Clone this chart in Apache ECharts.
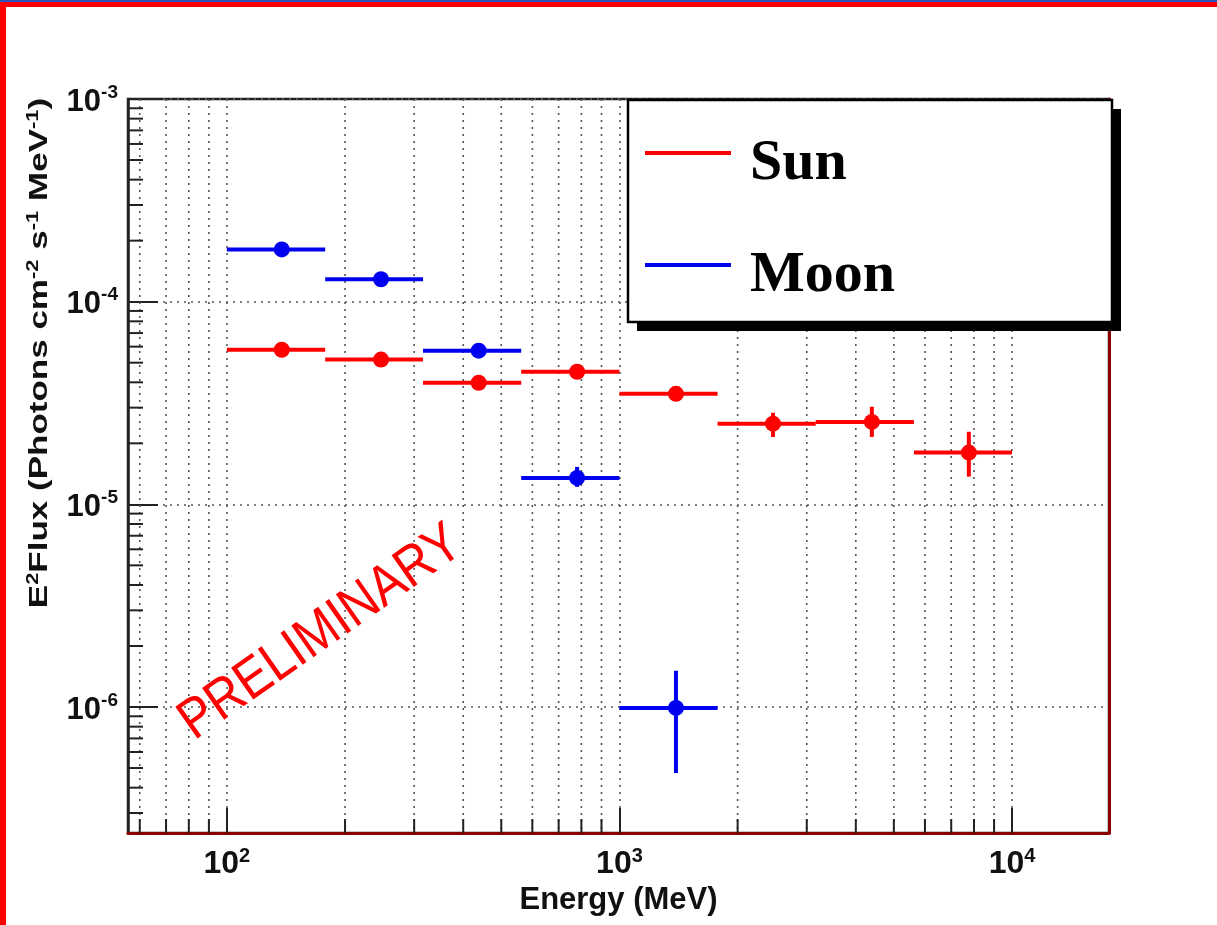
<!DOCTYPE html>
<html>
<head>
<meta charset="utf-8">
<script src="https://cdn.jsdelivr.net/npm/echarts@6/dist/echarts.min.js"></script>
<style>
html,body{margin:0;padding:0;background:#fff;}
#c{width:1217px;height:925px;}
</style>
</head>
<body>
<div id="c"></div>
<script>
// ---- data ----
const xRange = [56, 17660];
const yRange = [2.39e-7, 1e-3];

const sunBinLow  = [100, 178, 316, 562, 1000, 1778, 3162, 5623];
const sunBinHigh = [178, 316, 562, 1000, 1778, 3162, 5623, 10000];
const sunEnergy  = [138, 247, 438, 780, 1393, 2461, 4395, 7762];
const sunFlux     = [5.79e-5, 5.18e-5, 3.98e-5, 4.51e-5, 3.51e-5, 2.50e-5, 2.55e-5, 1.80e-5];
const sunFluxLow  = [5.55e-5, 4.95e-5, 3.78e-5, 4.30e-5, 3.26e-5, 2.15e-5, 2.15e-5, 1.37e-5];
const sunFluxHigh = [6.05e-5, 5.42e-5, 4.20e-5, 4.75e-5, 3.78e-5, 2.83e-5, 3.03e-5, 2.28e-5];

const moonBinLow  = [100, 178, 316, 562, 1000];
const moonBinHigh = [178, 316, 562, 1000, 1778];
const moonEnergy  = [138, 247, 438, 780, 1393];
const moonFlux     = [1.81e-4, 1.29e-4, 5.73e-5, 1.35e-5, 9.9e-7];
const moonFluxLow  = [1.74e-4, 1.24e-4, 5.50e-5, 1.22e-5, 4.72e-7];
const moonFluxHigh = [1.89e-4, 1.35e-4, 5.95e-5, 1.53e-5, 1.51e-6];

const minorX = [60, 70, 80, 90, 200, 300, 400, 500, 600, 700, 800, 900,
                2000, 3000, 4000, 5000, 6000, 7000, 8000, 9000];
const minorY = [3e-7, 4e-7, 5e-7, 6e-7, 7e-7, 8e-7, 9e-7,
                2e-6, 3e-6, 4e-6, 5e-6, 6e-6, 7e-6, 8e-6, 9e-6,
                2e-5, 3e-5, 4e-5, 5e-5, 6e-5, 7e-5, 8e-5, 9e-5,
                2e-4, 3e-4, 4e-4, 5e-4, 6e-4, 7e-4, 8e-4, 9e-4];

const seriesNames = ['Sun', 'Moon'];
const seriesColors = ['#ff0000', '#0000f0'];

// ---- build ----
function rows(e, f, fl, fh, bl, bh) {
  return e.map((v, i) => [v, f[i], bl[i], bh[i], fl[i], fh[i]]);
}
const sunData = rows(sunEnergy, sunFlux, sunFluxLow, sunFluxHigh, sunBinLow, sunBinHigh);
const moonData = rows(moonEnergy, moonFlux, moonFluxLow, moonFluxHigh, moonBinLow, moonBinHigh);

function errRender(color) {
  return function (params, api) {
    const xc = api.value(0), y = api.value(1);
    const p = api.coord([xc, y]);
    const l = api.coord([api.value(2), y]);
    const r = api.coord([api.value(3), y]);
    const lo = api.coord([xc, api.value(4)]);
    const hi = api.coord([xc, api.value(5)]);
    return {
      type: 'group',
      children: [
        {type: 'line', shape: {x1: l[0], y1: l[1], x2: r[0], y2: r[1]},
         style: {stroke: color, lineWidth: 4}},
        {type: 'line', shape: {x1: lo[0], y1: lo[1], x2: hi[0], y2: hi[1]},
         style: {stroke: color, lineWidth: 4}},
        {type: 'circle', shape: {cx: p[0], cy: p[1], r: 8},
         style: {fill: color}}
      ]
    };
  };
}

const fontSans = "'Liberation Sans', Arial, Helvetica, sans-serif";
const fontSerif = "'Liberation Serif', 'Times New Roman', serif";

function powLabel(v) {
  const e = Math.log10(v);
  const r = Math.round(e);
  if (Math.abs(e - r) > 1e-6) return '';
  return '{b|10}{s|' + r + '}';
}

// legend line icon: a bar at the top of the icon box, so the label sits a bit below the line
const legendIcon = 'path://M0,0L86,0L86,4L0,4ZM0,26L86,26L86,26.01L0,26.01Z';

const chart = echarts.init(document.getElementById('c'), null, {renderer: 'canvas'});
const dotted = {type: [2, 5], color: '#555', width: 1.6};

chart.setOption({
  animation: false,
  backgroundColor: '#fff',
  grid: {left: 128, top: 99, right: 108, bottom: 92, show: true,
         borderColor: '#222', borderWidth: 2.5, backgroundColor: 'transparent'},
  xAxis: [{
    type: 'log', min: xRange[0], max: xRange[1], position: 'bottom',
    axisLine: {show: true, lineStyle: {color: '#8b0000', width: 3}},
    axisTick: {show: true, inside: true, length: 25, lineStyle: {color: '#222', width: 2}},
    splitLine: {show: true, lineStyle: dotted},
    axisLabel: {
      margin: 13, formatter: powLabel, showMinLabel: false, showMaxLabel: false,
      rich: {
        b: {fontSize: 32, fontWeight: 'bold', fontFamily: fontSans, color: '#111', lineHeight: 36},
        s: {fontSize: 20, fontWeight: 'bold', fontFamily: fontSans, color: '#111', lineHeight: 18, verticalAlign: 'top'}
      }
    },
    name: 'Energy (MeV)', nameLocation: 'middle', nameGap: 38,
    nameTextStyle: {fontSize: 31, fontWeight: 'bold', fontFamily: fontSans, color: '#111'}
  }],
  yAxis: [{
    type: 'log', min: yRange[0], max: yRange[1], position: 'left',
    axisLine: {show: true, lineStyle: {color: '#222', width: 2.5}},
    axisTick: {show: true, inside: true, length: 30, lineStyle: {color: '#222', width: 2}},
    splitLine: {show: true, lineStyle: dotted},
    axisLabel: {
      margin: 10, formatter: powLabel, showMinLabel: false,
      rich: {
        b: {fontSize: 31, fontWeight: 'bold', fontFamily: fontSans, color: '#111', lineHeight: 32, padding: [6, 0, 0, 0]},
        s: {fontSize: 19, fontWeight: 'bold', fontFamily: fontSans, color: '#111', lineHeight: 18, verticalAlign: 'top'}
      }
    }
  }, {
    type: 'log', min: yRange[0], max: yRange[1], position: 'right',
    axisLine: {show: true, lineStyle: {color: '#8b0000', width: 3}},
    axisTick: {show: false}, axisLabel: {show: false}, splitLine: {show: false}
  }],
  legend: {
    data: [{name: 'Sun', icon: legendIcon}, {name: 'Moon', icon: legendIcon}],
    orient: 'vertical', left: 645, top: 129, padding: 0,
    itemWidth: 86, itemHeight: 26, itemGap: 42, z: 12,
    selectedMode: false,
    textStyle: {fontSize: 58, fontWeight: 'bold', fontFamily: fontSerif, color: '#000',
                lineHeight: 70, padding: [0, 0, 0, 14]}
  },
  graphic: [
    {type: 'rect', z: 10, shape: {x: 637, y: 109, width: 484, height: 222},
     style: {fill: '#000'}},
    {type: 'rect', z: 11, shape: {x: 628, y: 100, width: 484, height: 222},
     style: {fill: '#fff', stroke: '#000', lineWidth: 2.5}},
    {type: 'rect', z: 20, shape: {x: 0, y: 0, width: 1217, height: 2}, style: {fill: '#2a55b5'}},
    {type: 'rect', z: 20, shape: {x: 0, y: 2, width: 1217, height: 5}, style: {fill: '#ff0000'}},
    {type: 'rect', z: 20, shape: {x: 0, y: 2, width: 6, height: 923}, style: {fill: '#ff0000'}},
    {type: 'text', z: 15, x: 40, y: 353, rotation: Math.PI / 2, scaleY: 0.76,
     style: {
       text: '{a|E}{s|2}{a|Flux (Photons cm}{s|-2}{a| s}{s|-1}{a| MeV}{s|-1}{a|)}',
       align: 'center', verticalAlign: 'middle',
       rich: {
         a: {fontSize: 35, fontWeight: 'bold', fontFamily: fontSans, fill: '#111', lineHeight: 40},
         s: {fontSize: 22, fontWeight: 'bold', fontFamily: fontSans, fill: '#111', lineHeight: 22, verticalAlign: 'top'}
       }
     }},
    {type: 'text', z: 15, x: 321, y: 633, rotation: 35 * Math.PI / 180, scaleY: 1.15,
     style: {text: 'PRELIMINARY', fontSize: 49, fontFamily: fontSans, fill: '#ff0000',
             align: 'center', verticalAlign: 'middle'}}
  ],
  series: [
    {
      name: 'minorGridX', type: 'custom', silent: true, z: 1,
      data: minorX.map(v => [v, yRange[0]]),
      renderItem: function (params, api) {
        const v = api.value(0);
        const top = api.coord([v, yRange[1]]);
        const bot = api.coord([v, yRange[0]]);
        return {type: 'group', children: [
          {type: 'line', shape: {x1: top[0], y1: top[1], x2: bot[0], y2: bot[1]},
           style: {stroke: '#555', lineWidth: 1.6, lineDash: [2, 5]}},
          {type: 'line', shape: {x1: bot[0], y1: bot[1], x2: bot[0], y2: bot[1] - 14},
           style: {stroke: '#222', lineWidth: 2}}
        ]};
      }
    },
    {
      name: 'minorTickY', type: 'custom', silent: true, z: 1,
      data: minorY.map(v => [xRange[0], v]),
      renderItem: function (params, api) {
        const v = api.value(1);
        const l = api.coord([xRange[0], v]);
        return {type: 'line', shape: {x1: l[0], y1: l[1], x2: l[0] + 15, y2: l[1]},
                style: {stroke: '#222', lineWidth: 2}};
      }
    },
    {name: 'Sun', type: 'custom', z: 5, itemStyle: {color: seriesColors[0]},
     renderItem: errRender(seriesColors[0]), data: sunData,
     encode: {x: [0, 2, 3], y: [1, 4, 5]}},
    {name: 'Moon', type: 'custom', z: 5, itemStyle: {color: seriesColors[1]},
     renderItem: errRender(seriesColors[1]), data: moonData,
     encode: {x: [0, 2, 3], y: [1, 4, 5]}}
  ]
});
</script>
</body>
</html>
